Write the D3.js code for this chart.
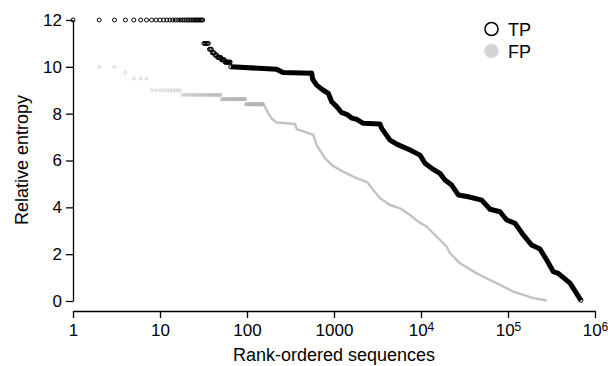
<!DOCTYPE html>
<html>
<head>
<meta charset="utf-8">
<script src="https://cdn.jsdelivr.net/npm/d3@7"></script>
<style>
  body { margin: 0; background: #fff; }
  svg { display: block; font-family: "Liberation Sans", Arial, Helvetica, sans-serif; }
  .axis path, .axis line { stroke: #000; stroke-width: 1.3; }
  .axis text { font-size: 17px; fill: #000; }
</style>
</head>
<body>
<div id="chart"></div>
<script>
// runs of ranks sharing one value: [firstRank, lastRank, entropy]
const tpRuns = [
  [1, 31, 12], [32, 36, 11], [37, 39, 10.75], [40, 42, 10.6],
  [43, 45, 10.5], [46, 50, 10.4], [51, 55, 10.3], [56, 64, 10.2]
];
const tpCurve = [
  [65, 10], [219, 9.9], [259, 9.76], [554, 9.73], [569, 9.47], [632, 9.22],
  [753, 9.0], [860, 8.87], [941, 8.51], [1074, 8.3], [1227, 8.04], [1400, 7.97],
  [1597, 7.81], [1824, 7.76], [2173, 7.59], [3378, 7.56], [3532, 7.37],
  [4403, 6.87], [5258, 6.7], [7481, 6.45], [9746, 6.23], [11120, 5.88],
  [13840, 5.62], [16520, 5.45], [18870, 5.17], [22530, 4.95], [26840, 4.53],
  [35000, 4.45], [49900, 4.31], [62100, 3.92], [80900, 3.81], [96600, 3.46],
  [120300, 3.32], [150000, 2.82], [187000, 2.39], [233000, 2.22],
  [278600, 1.75], [332000, 1.25], [378500, 1.18], [516000, 0.76], [690000, 0.03]
];

const fpRuns = [
  [2, 3, 10], [4, 4, 9.75], [5, 7, 9.5], [8, 17, 9.0],
  [18, 50, 8.8], [51, 96, 8.62], [97, 154, 8.4]
];
const fpCurve = [
  [155, 8.35], [161, 8.3], [176, 8.01], [192, 7.8], [219, 7.62], [356, 7.56],
  [373, 7.34], [578, 7.09], [632, 6.66], [788, 6.09], [941, 5.81], [1172, 5.59],
  [1400, 5.45], [1824, 5.24], [2376, 5.09], [2833, 4.74], [3378, 4.39],
  [4403, 4.1], [5741, 3.96], [7481, 3.67], [9310, 3.39], [11640, 3.17],
  [15140, 2.75], [19720, 2.32], [21530, 2.04], [28060, 1.61], [43700, 1.18],
  [74100, 0.76], [115000, 0.4], [195000, 0.12], [278600, 0.02]
];

const xTicks = [1, 10, 100, 1000, 1e4, 1e5, 1e6];
const xTickBase = ['1', '10', '100', '1000', '10', '10', '10'];
const xTickExp = ['', '', '', '', '4', '5', '6'];
const yTicks = [0, 2, 4, 6, 8, 10, 12];

const width = 608, height = 366;

const svg = d3.select('#chart')
  .append('svg')
  .attr('width', width)
  .attr('height', height);

const x = d3.scaleLog().domain([1, 1e6]).range([73, 595]);
const y = d3.scaleLinear().domain([0, 12]).range([301, 20]);

// axes
svg.append('g')
  .attr('class', 'axis')
  .attr('transform', 'translate(73,0)')
  .call(d3.axisLeft(y).tickValues(yTicks).tickSize(7).tickSizeOuter(0).tickPadding(4));

const xAxis = svg.append('g')
  .attr('class', 'axis')
  .attr('transform', 'translate(0,311)')
  .call(d3.axisBottom(x).tickValues(xTicks).tickSize(7).tickSizeOuter(0).tickPadding(6).tickFormat(() => ''));

xAxis.selectAll('.tick text')
  .attr('dy', '0.71em')
  .each(function (d, i) {
    const t = d3.select(this);
    t.append('tspan').text(xTickBase[i]);
    if (xTickExp[i]) {
      t.append('tspan')
        .attr('dy', '-0.45em')
        .style('font-size', '12px')
        .text(xTickExp[i]);
    }
  });

// axis titles
svg.append('text')
  .attr('x', 334)
  .attr('y', 361)
  .attr('text-anchor', 'middle')
  .style('font-size', '18px')
  .text('Rank-ordered sequences');

svg.append('text')
  .attr('transform', 'translate(28,160) rotate(-90)')
  .attr('text-anchor', 'middle')
  .style('font-size', '18px')
  .text('Relative entropy');

// expand runs into one point per rank
const expand = runs => runs.flatMap(([a, b, v]) => d3.range(a, b + 1).map(r => [r, v]));

const line = d3.line()
  .x(d => x(d[0]))
  .y(d => y(d[1]));

// FP series (drawn first, underneath)
svg.append('path')
  .datum(fpCurve)
  .attr('d', line)
  .attr('fill', 'none')
  .attr('stroke', '#c2c2c2')
  .attr('stroke-width', 2.4)
  .attr('stroke-linejoin', 'round');

svg.append('g')
  .selectAll('circle')
  .data(expand(fpRuns))
  .join('circle')
  .attr('cx', d => x(d[0]))
  .attr('cy', d => y(d[1]))
  .attr('r', 1.4)
  .attr('fill', 'none')
  .attr('stroke', '#b4b4b4')
  .attr('stroke-width', 0.6);

// TP series
svg.append('path')
  .datum(tpCurve)
  .attr('d', line)
  .attr('fill', 'none')
  .attr('stroke', '#000')
  .attr('stroke-width', 5)
  .attr('stroke-linejoin', 'round');

svg.append('g')
  .selectAll('circle')
  .data(expand(tpRuns).concat([tpCurve[0], tpCurve[3], tpCurve[tpCurve.length - 1]]))
  .join('circle')
  .attr('cx', d => x(d[0]))
  .attr('cy', d => y(d[1]))
  .attr('r', 2)
  .attr('fill', 'none')
  .attr('stroke', '#000')
  .attr('stroke-width', 1);

// legend
const legend = svg.append('g');
legend.append('circle')
  .attr('cx', 491.5).attr('cy', 29).attr('r', 6.5)
  .attr('fill', 'none').attr('stroke', '#000').attr('stroke-width', 1.5);
legend.append('text')
  .attr('x', 508).attr('y', 36)
  .style('font-size', '18px')
  .text('TP');
legend.append('circle')
  .attr('cx', 491.5).attr('cy', 51).attr('r', 7)
  .attr('fill', '#d4d4d4').attr('stroke', '#e2e2e2').attr('stroke-width', 1);
legend.append('text')
  .attr('x', 508).attr('y', 58)
  .style('font-size', '18px')
  .text('FP');
</script>
</body>
</html>
